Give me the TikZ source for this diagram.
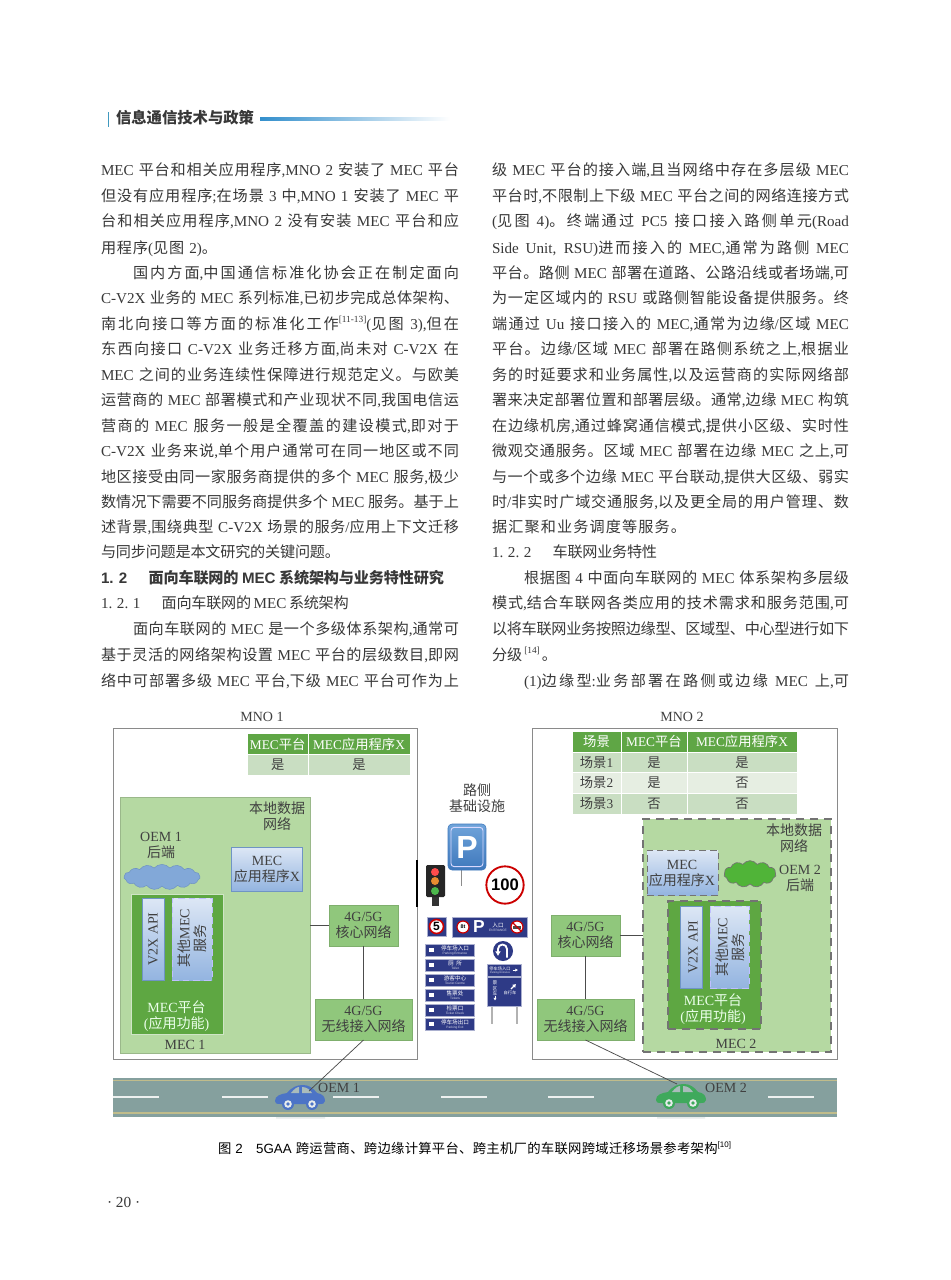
\documentclass[tikz,border=0pt]{standalone}
\usepackage{fontspec}
\usetikzlibrary{shapes.symbols,shapes.geometric,arrows.meta}
\setmainfont{Liberation Serif}
\setsansfont{Liberation Sans}
\newfontfamily\cjkf{Noto Sans CJK SC}
% automatic CJK font switching
\newXeTeXintercharclass\cjkcls
\newcount\cjki
\cjki="4E00 \loop \XeTeXcharclass\cjki=\cjkcls \ifnum\cjki<"9FFF \advance\cjki by 1 \repeat
\cjki="3000 \loop \XeTeXcharclass\cjki=\cjkcls \ifnum\cjki<"303F \advance\cjki by 1 \repeat
\XeTeXinterchartoks 0 \cjkcls={\begingroup\cjkf}
\XeTeXinterchartoks 4095 \cjkcls={\begingroup\cjkf}
\XeTeXinterchartoks \cjkcls 0={\endgroup}
\XeTeXinterchartoks \cjkcls 4095={\endgroup}
\XeTeXinterchartoks \cjkcls \cjkcls={\hskip 0pt plus 1pt minus .2pt\relax}
\XeTeXinterchartokenstate=1
\definecolor{txtc}{HTML}{383838}
\definecolor{lbl}{HTML}{404040}
\definecolor{navy}{HTML}{2E3A86}
\definecolor{hdg}{HTML}{5FA645}
\definecolor{rowa}{HTML}{C9DEC2}
\definecolor{rowb}{HTML}{E6EEE2}
\definecolor{lnet}{HTML}{B5D9A2}
\definecolor{plat}{HTML}{5EA742}
\definecolor{net}{HTML}{90C77C}
\definecolor{frm}{HTML}{8A8A8A}
\definecolor{road}{HTML}{85A09E}
\definecolor{boxtop}{HTML}{DDE7F5}
\definecolor{boxbot}{HTML}{93B4E0}
\definecolor{boxedge}{HTML}{6F94C4}
\definecolor{carblue}{HTML}{4C74C6}
\definecolor{cargreen}{HTML}{3FA95C}
\definecolor{psgtop}{HTML}{6FA4DA}
\definecolor{psgbot}{HTML}{3F78BC}
\definecolor{cloudblue}{HTML}{82A8D8}
\tikzset{
 pageline/.style={anchor=base west,inner sep=0,outer sep=0,text=txtc,font=\fontsize{11.35}{13}\selectfont},
 lab/.style={inner sep=0,outer sep=0,align=center,text=lbl,font=\fontsize{10.5}{12}\selectfont},
 frame/.style={draw=frm,line width=.65pt,fill=white},
 cellh/.style={fill=hdg,draw=white,line width=.4pt,text=white,align=center,font=\fontsize{10}{11}\selectfont},
 cella/.style={fill=rowa,draw=white,line width=.4pt,text=lbl,align=center,font=\fontsize{10}{11}\selectfont},
 cellb/.style={fill=rowb,draw=white,line width=.4pt,text=lbl,align=center,font=\fontsize{10}{11}\selectfont},
 localnet/.style={fill=lnet,draw=lnet!85!black,line width=.4pt},
 localdash/.style={fill=lnet,draw=black!55,line width=.8pt,dash pattern=on 6pt off 4.5pt},
 platf/.style={fill=plat,draw=white!70!plat,line width=.5pt},
 platd/.style={fill=plat,draw=black!55,line width=.8pt,dash pattern=on 6pt off 4.5pt},
 appbox/.style={top color=boxtop,bottom color=boxbot,draw=boxedge,line width=.5pt},
 appdash/.style={top color=boxtop,bottom color=boxbot,draw=black!55,line width=.7pt,dash pattern=on 5pt off 3pt},
 svcdash/.style={top color=boxtop,bottom color=boxbot,draw=white!75!blue,line width=.5pt,dash pattern=on 5pt off 3pt},
 netbox/.style={fill=net,draw=net!88!black,line width=.5pt,text=lbl,align=center,font=\fontsize{10.5}{12}\selectfont},
 link/.style={draw=black!70,line width=.55pt},
 platlab/.style={inner sep=0,align=center,text=white!92!green,font=\fontsize{10.5}{12}\selectfont},
 roaddash/.style={draw=white!85!road,line width=1pt},
 roadedge/.style={draw=brown!30!yellow!35!gray!70!white,line width=1pt},
 signbox/.style={fill=navy,draw=white!60!navy,line width=.2pt},
 signcn/.style={inner sep=0,text=white,font=\fontsize{4.2}{4.5}\selectfont},
 signen/.style={inner sep=0,text=white!80!navy,font=\fontsize{2.4}{3}\selectfont\sffamily},
 ring/.style={fill=white,draw=red!80!black,line width=1.3pt},
 car/.pic={
  \fill[pic actions] (-25,3) .. controls (-25,-2) and (-20,-4) .. (-13,-5)
     .. controls (-8,-11) and (-3,-13) .. (3,-13)
     .. controls (9,-13) and (13,-10) .. (17,-5)
     .. controls (23,-4) and (25,-1) .. (25,3) .. controls (25,6) and (22,6) .. (20,6)
     -- (-20,6) .. controls (-24,6) and (-25,5) .. (-25,3) -- cycle;
  \fill[road!70!white] (-9,-5) .. controls (-6,-9) and (-3,-11) .. (-1,-11) -- (-1,-5) -- cycle;
  \fill[road!70!white] (2,-5) -- (2,-11) .. controls (7,-11) and (10,-8) .. (12,-5) -- cycle;
  \fill[pic actions] (-12,6) circle (6) (12,6) circle (6);
  \fill[white!80!road] (-12,6) circle (3.8) (12,6) circle (3.8);
  \fill[pic actions] (-12,6) circle (1.8) (12,6) circle (1.8);
 },
}
\newcommand\bx[7]{\node[inner sep=0,outer sep=0,minimum width={(#4-#2)*0.75pt},minimum height={(#5-#3)*0.75pt},#6] (#1) at ({(#2+#4)/2},{(#3+#5)/2}) {#7};}
\newcount\tlno
\newcommand\tl[4]{\global\advance\tlno by 1 \node[pageline] (tl\the\tlno) at (#1,#3+5) {\hbox to \dimexpr 0.75pt*(#2-#1)\relax{#4}};}
\newcommand\sups[1]{\raisebox{.42em}{\fontsize{7}{7}\selectfont #1}}
\newcommand\lsign[5]{\bx{#1}{425}{#2}{474}{#3}{signbox}{}
 \node[signcn] (#1c) at (455,#2+4) {#4};
 \node[signen] (#1e) at (455,#2+9.5) {#5};
 \fill[white] (429,#2+3.5) rectangle (434,#2+8);}
\begin{document}
\begin{tikzpicture}[x=0.75pt,y=-0.75pt]
\useasboundingbox (0,0) rectangle (950,1280);
\fill[white] (0,0) rectangle (950,1280);
% page header
\fill[blue!30!cyan!50!gray] (107.6,112) rectangle (108.6,127);
\node[pageline,font=\fontsize{11.5}{13}\selectfont\sffamily\bfseries] (head) at (116,124) {\hbox to 103.5pt{信息通信技术与政策}};
\fill[left color=blue!40!cyan!60!gray,right color=white] (260,117.5) rectangle (450,120.5);
% left column
\tl{101}{459}{171}{MEC 平台和相关应用程序,MNO 2 安装了 MEC 平台}
\tl{101}{459}{197}{但没有应用程序;在场景 3 中,MNO 1 安装了 MEC 平}
\tl{101}{459}{222}{台和相关应用程序,MNO 2 没有安装 MEC 平台和应}
\tl{101}{217}{248}{用程序(见图 2)。}
\tl{133}{459}{273}{国内方面,中国通信标准化协会正在制定面向}
\tl{101}{459}{298}{C-V2X 业务的 MEC 系列标准,已初步完成总体架构、}
\tl{101}{459}{324}{南北向接口等方面的标准化工作\sups{[11-13]}(见图 3),但在}
\tl{101}{459}{349}{东西向接口 C-V2X 业务迁移方面,尚未对 C-V2X 在}
\tl{101}{459}{375}{MEC 之间的业务连续性保障进行规范定义。与欧美}
\tl{101}{459}{400}{运营商的 MEC 部署模式和产业现状不同,我国电信运}
\tl{101}{459}{426}{营商的 MEC 服务一般是全覆盖的建设模式,即对于}
\tl{101}{459}{451}{C-V2X 业务来说,单个用户通常可在同一地区或不同}
\tl{101}{459}{477}{地区接受由同一家服务商提供的多个 MEC 服务,极少}
\tl{101}{459}{502}{数情况下需要不同服务商提供多个 MEC 服务。基于上}
\tl{101}{459}{527}{述背景,围绕典型 C-V2X 场景的服务/应用上下文迁移}
\tl{101}{340}{552}{与同步问题是本文研究的关键问题。}
\tl{101}{444}{578}{\sffamily\bfseries 1. 2\hskip 1.4em 面向车联网的 MEC 系统架构与业务特性研究}
\tl{101}{348}{603}{1. 2. 1\hskip 1.4em 面向车联网的 MEC 系统架构}
\tl{133}{459}{629}{面向车联网的 MEC 是一个多级体系架构,通常可}
\tl{101}{459}{655}{基于灵活的网络架构设置 MEC 平台的层级数目,即网}
\tl{101}{459}{681}{络中可部署多级 MEC 平台,下级 MEC 平台可作为上}
% right column
\tl{492}{849}{171}{级 MEC 平台的接入端,且当网络中存在多层级 MEC}
\tl{492}{849}{197}{平台时,不限制上下级 MEC 平台之间的网络连接方式}
\tl{492}{849}{222}{(见图 4)。终端通过 PC5 接口接入路侧单元(Road}
\tl{492}{849}{248}{Side Unit, RSU)进而接入的 MEC,通常为路侧 MEC}
\tl{492}{849}{273}{平台。路侧 MEC 部署在道路、公路沿线或者场端,可}
\tl{492}{849}{298}{为一定区域内的 RSU 或路侧智能设备提供服务。终}
\tl{492}{849}{324}{端通过 Uu 接口接入的 MEC,通常为边缘/区域 MEC}
\tl{492}{849}{349}{平台。边缘/区域 MEC 部署在路侧系统之上,根据业}
\tl{492}{849}{375}{务的时延要求和业务属性,以及运营商的实际网络部}
\tl{492}{849}{400}{署来决定部署位置和部署层级。通常,边缘 MEC 构筑}
\tl{492}{849}{426}{在边缘机房,通过蜂窝通信模式,提供小区级、实时性}
\tl{492}{849}{451}{微观交通服务。区域 MEC 部署在边缘 MEC 之上,可}
\tl{492}{849}{477}{与一个或多个边缘 MEC 平台联动,提供大区级、弱实}
\tl{492}{849}{502}{时/非实时广域交通服务,以及更全局的用户管理、数}
\tl{492}{686}{527}{据汇聚和业务调度等服务。}
\tl{492}{652}{552}{1. 2. 2\hskip 1.4em 车联网业务特性}
\tl{524}{849}{578}{根据图 4 中面向车联网的 MEC 体系架构多层级}
\tl{492}{849}{603}{模式,结合车联网各类应用的技术需求和服务范围,可}
\tl{492}{849}{629}{以将车联网业务按照边缘型、区域型、中心型进行如下}
\tl{492}{580}{655}{分级\hskip 1.5pt\sups{[14]}\hskip 1.5pt。\hfil}
\tl{524}{849}{681}{(1)边缘型:业务部署在路侧或边缘 MEC 上,可}
% MNO 1
\node[lab] (mno1) at (262,717) {MNO 1};
\bx{frame1}{113}{728}{417}{1059}{frame}{}
\bx{t1a}{247.5}{733.5}{308}{754.5}{cellh}{MEC平台}
\bx{t1b}{308}{733.5}{410}{754.5}{cellh}{MEC应用程序X}
\bx{t1c}{247.5}{754.5}{308}{775.5}{cella}{是}
\bx{t1d}{308}{754.5}{410}{775.5}{cella}{是}
\bx{loc1}{120}{797}{310}{1053}{localnet}{}
\node[lab] (loc1t) at (277,816.5) {本地数据\\网络};
\node[lab] (oem1b) at (161,845.5) {OEM 1\\后端};
\node[cloud,cloud puffs=15,cloud puff arc=100,aspect=3,inner sep=0,minimum width=57pt,minimum height=19pt,fill=cloudblue,draw=boxedge,line width=.4pt] (cloud1) at (162,877) {};
\bx{app1}{231}{847}{302}{891}{appbox}{}
\node[lab] (app1t) at (267,869) {MEC\\应用程序X};
\bx{plat1}{131}{894}{223}{1034}{platf}{}
\bx{v2x1}{142}{898}{164}{980}{appbox}{}
\node[lab,rotate=90] (v2x1t) at (153,939) {V2X API};
\bx{svc1}{172}{898}{212}{980}{svcdash}{}
\node[lab,rotate=90] (svc1t) at (192,938) {其他MEC\\服务};
\node[platlab] (plat1t) at (176.5,1016) {MEC平台\\(应用功能)};
\node[lab] (mec1) at (185,1045) {MEC 1};
\bx{core1}{329}{905}{398}{946}{netbox}{4G/5G\\核心网络}
\bx{ran1}{315}{999}{412}{1040}{netbox}{4G/5G\\无线接入网络}
\draw[link] (loc1.east |- core1.west) -- (core1.west);
\draw[link] (core1.south) -- (ran1.north);
% MNO 2
\node[lab] (mno2) at (682,717) {MNO 2};
\bx{frame2}{532}{728}{837}{1059}{frame}{}
\bx{t2a}{572}{731}{621}{752}{cellh}{场景}
\bx{t2b}{621}{731}{687}{752}{cellh}{MEC平台}
\bx{t2c}{687}{731}{797}{752}{cellh}{MEC应用程序X}
\bx{t2d}{572}{752}{621}{772.5}{cella}{场景1}
\bx{t2e}{621}{752}{687}{772.5}{cella}{是}
\bx{t2f}{687}{752}{797}{772.5}{cella}{是}
\bx{t2g}{572}{772.5}{621}{793}{cellb}{场景2}
\bx{t2h}{621}{772.5}{687}{793}{cellb}{是}
\bx{t2i}{687}{772.5}{797}{793}{cellb}{否}
\bx{t2j}{572}{793}{621}{814}{cella}{场景3}
\bx{t2k}{621}{793}{687}{814}{cella}{否}
\bx{t2l}{687}{793}{797}{814}{cella}{否}
\bx{loc2}{643}{819}{831}{1052}{localdash}{}
\node[lab] (loc2t) at (794,838.5) {本地数据\\网络};
\bx{app2}{647}{850}{718}{895}{appdash}{}
\node[lab] (app2t) at (682,873) {MEC\\应用程序X};
\node[cloud,cloud puffs=11,cloud puff arc=110,aspect=2,inner sep=0,minimum width=39pt,minimum height=20pt,fill=plat!85!green,draw=black!55,line width=.5pt] (cloud2) at (750,874) {};
\node[lab] (oem2b) at (800,878) {OEM 2\\后端};
\bx{plat2}{668}{901}{761}{1029}{platd}{}
\bx{v2x2}{680}{906}{702}{988}{appbox}{}
\node[lab,rotate=90] (v2x2t) at (693,947) {V2X API};
\bx{svc2}{710}{906}{749}{988}{svcdash}{}
\node[lab,rotate=90] (svc2t) at (730,947) {其他MEC\\服务};
\node[platlab] (plat2t) at (713,1009) {MEC平台\\(应用功能)};
\node[lab] (mec2) at (736,1044) {MEC 2};
\bx{core2}{551}{915}{620}{956}{netbox}{4G/5G\\核心网络}
\bx{ran2}{537}{999}{634}{1040}{netbox}{4G/5G\\无线接入网络}
\draw[link] (core2.east) -- (loc2.west |- core2.east);
\draw[link] (core2.south) -- (ran2.north);
% road
\fill[road] (113,1078) rectangle (837,1117);
\fill[white!80!road] (276,1117) rectangle (325,1118.5) (657,1117) rectangle (705,1118.5);
\draw[roadedge] (113,1080.5) -- (837,1080.5);
\draw[roadedge] (113,1113) -- (837,1113);
\foreach \xa in {113,222,333,441,548,658,768}{\draw[roaddash] (\xa,1097) -- ++(46,0);}
\pic[fill=carblue,draw=none] (car1) at (300,1098) {car};
\pic[fill=cargreen,draw=none] (car2) at (681,1097) {car};
\coordinate (car1top) at (309,1091);
\coordinate (car2top) at (677,1084);
\draw[link] (ran1.south) -- (car1top);
\draw[link] (ran2.south) -- (car2top);
\node[lab] (oem1) at (339,1088) {OEM 1};
\node[lab] (oem2) at (726,1088) {OEM 2};
% thick bit of frame edge
\fill[black] (416.3,860) rectangle (418,907);
% roadside
\node[lab] (rs) at (477,798) {路侧\\基础设施};
\draw[black!45,line width=.5pt] (461,860) -- (461,886);
\bx{psign}{448}{824}{486}{870}{rounded corners=3pt,top color=psgtop,bottom color=psgbot,draw=psgbot,line width=.4pt}{}
\node[draw=white!85!blue,line width=.7pt,rounded corners=2.4pt,inner sep=0,minimum width=24pt,minimum height=29.5pt] (psigni) at (psign.center) {};
\node[inner sep=0,text=white,font=\fontsize{24}{24}\selectfont\sffamily\bfseries] (psignp) at (467,847) {P};
\bx{tlbase}{432}{896}{439}{906}{fill=black!80}{}
\bx{tlight}{426}{865}{445}{897}{fill=black!85,rounded corners=1pt}{}
\fill[red!60!pink] (435,872) circle (4);
\fill[orange!60!brown!90!white] (435,881) circle (4);
\fill[green!60!black!70!white] (435,891) circle (4);
\node[circle,ring,line width=1.4pt,inner sep=0,minimum size=28pt,font=\fontsize{12.5}{14}\selectfont\sffamily\bfseries] (lim100) at (505,885) {100};
\bx{s5}{427}{917}{446}{936}{signbox}{}
\node[circle,ring,line width=1.2pt,inner sep=0,minimum size=10.5pt,font=\fontsize{9}{9}\selectfont\sffamily\bfseries] (s5c) at (s5.center) {5};
\bx{swide}{452}{917}{527}{937}{signbox}{}
\node[circle,ring,line width=.9pt,inner sep=0,minimum size=9pt,font=\fontsize{4}{4}\selectfont\sffamily\bfseries] (sw1) at (463,927) {8t};
\node[inner sep=0,text=white,font=\fontsize{13}{13}\selectfont\sffamily\bfseries] (swp) at (479,927) {P};
\node[signcn] (swr) at (498,925) {入口};
\node[signen] (swe) at (498,930) {ENTRANCE};
\node[circle,ring,line width=.9pt,inner sep=0,minimum size=9pt] (sw2) at (517,927) {};
\fill[black!70] (513,925.5) rectangle (521,929);
\draw[red!80!black,line width=.8pt] (sw2.north west) -- (sw2.south east);
\lsign{l1}{944}{956}{停车场入口}{Parking Entrance}
\lsign{l2}{959}{971}{厕\ \ 所}{Toilet}
\lsign{l3}{974}{986}{游客中心}{Tourist Centre}
\lsign{l4}{989}{1001}{售票处}{Tickets}
\lsign{l5}{1004}{1016}{检票口}{Ticket Check}
\lsign{l6}{1018}{1030}{停车场出口}{Parking Exit}
\node[circle,fill=navy,inner sep=0,minimum size=15pt] (uturn) at (503,951) {};
\draw[white,line width=1.4pt,-{Latex[length=3.5pt,width=4.5pt]}] (507,957.5) -- (507,949) arc (0:-180:4.5) -- (498,956);
\draw[black!30,line width=.9pt] (492,1006) -- (492,1024) (517,1006) -- (517,1024);
\bx{s2a}{487}{964}{521}{976}{signbox}{}
\node[signcn,font=\fontsize{3.2}{3.5}\selectfont] (s2at) at (500,968.5) {停车场入口};
\node[signen,font=\fontsize{2}{2.5}\selectfont\sffamily] (s2ae) at (500,973) {Parking Entrance};
\draw[white,line width=.7pt,-{Latex[length=2pt,width=2.5pt]}] (512.5,970) -- (518,970);
\bx{s2b}{487}{977}{521}{1006}{signbox}{}
\node[signcn,align=center,font=\fontsize{3.5}{4}\selectfont] (s2bt) at (495,988.5) {景\\区\\车};
\draw[white,line width=.7pt,-{Latex[length=2pt,width=2.5pt]}] (495,996) -- (495,1000.5);
\draw[white,line width=1pt,-{Latex[length=2.5pt,width=3.5pt]}] (511,989) -- (516,984);
\node[signcn,font=\fontsize{3.2}{3.5}\selectfont] (s2bu) at (510,992.5) {自行车};
% caption and folio
\node[pageline,text=black,font=\fontsize{10}{12}\selectfont\sffamily] (cap) at (218,1153) {\hbox to \dimexpr 0.75pt*513\relax{图 2\hskip 1em 5GAA 跨运营商、跨边缘计算平台、跨主机厂的车联网跨域迁移场景参考架构\sups{\fontsize{6}{6}\selectfont [10]}}};
\node[pageline,font=\fontsize{11.5}{13}\selectfont] (folio) at (107,1207) {· 20 ·};
\end{tikzpicture}
\end{document}
